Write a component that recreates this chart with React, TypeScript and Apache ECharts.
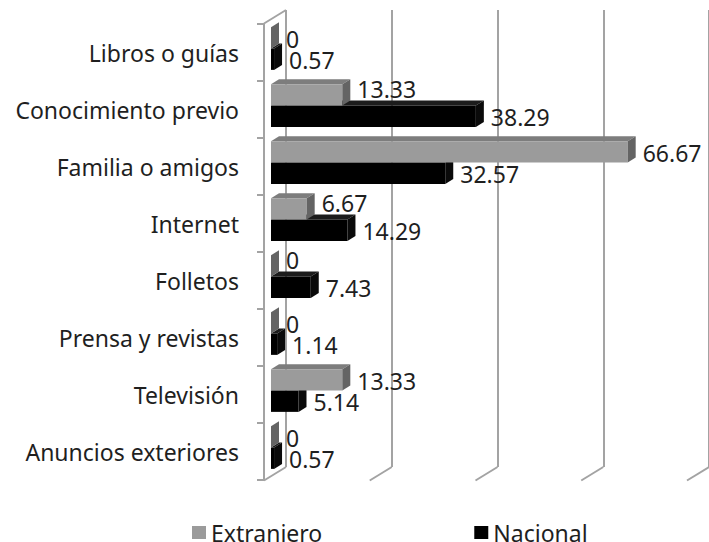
import React, { useEffect, useRef } from "react";
import * as echarts from "echarts";

const categories = [
  "Libros o guías",
  "Conocimiento previo",
  "Familia o amigos",
  "Internet",
  "Folletos",
  "Prensa y revistas",
  "Televisión",
  "Anuncios exteriores",
];
const extranjero = [0, 13.33, 66.67, 6.67, 0, 0, 13.33, 0];
const nacional = [0.57, 38.29, 32.57, 14.29, 7.43, 1.14, 5.14, 0.57];
const valueTicks = [0, 20, 40, 60, 80];
const seriesNames = ["Extranjero", "Nacional"];

const FONT = "Noto Sans";
const FS = 23;
const TEXT = "#1f1f1f";
const WALL = "#a3a3a3";

const DEPTH_X = 22;
const DEPTH_Y = 13.5;
const BAR_OFF_X = 7;
const BAR_OFF_Y = -4;
const BAR_DX = 8;
const BAR_DY = -5;
const LABEL_GAP = 7;

type Face = { front: string; top: string; side: string };
const grayFace: Face = { front: "#9b9b9b", top: "#7d7d7d", side: "#646464" };
const blackFace: Face = { front: "#000000", top: "#1c1c1c", side: "#0a0a0a" };

function barGeom(api: any, slot: number, cat: number, v: number) {
  const start = api.coord([0, cat]);
  const end = api.coord([v, cat]);
  const band = api.size([0, 1])[1];
  const h = band * 0.375;
  const cy = start[1] + BAR_OFF_Y;
  const y0 = slot === 0 ? cy - h : cy;
  const y1 = y0 + h;
  const x0 = start[0] + BAR_OFF_X;
  const x1 = end[0] + BAR_OFF_X;
  return { x0, x1, y0, y1, h };
}

function makeBarRenderer(slot: number, face: Face, zz: number) {
  return (params: any, api: any) => {
    const cat = api.value(0);
    const v = api.value(1);
    const { x0, x1, y0, y1, h } = barGeom(api, slot, cat, v);
    return {
      type: "group",
      children: [
        {
          type: "polygon",
          z2: zz,
          shape: {
            points: [
              [x0, y0],
              [x0 + BAR_DX, y0 + BAR_DY],
              [x1 + BAR_DX, y0 + BAR_DY],
              [x1, y0],
            ],
          },
          style: { fill: face.top },
        },
        {
          type: "rect",
          z2: zz,
          shape: { x: x0, y: y0, width: Math.max(x1 - x0, 0), height: h },
          style: { fill: face.front },
        },
        {
          type: "polygon",
          z2: zz,
          shape: {
            points: [
              [x1, y0],
              [x1 + BAR_DX, y0 + BAR_DY],
              [x1 + BAR_DX, y1 + BAR_DY],
              [x1, y1],
            ],
          },
          style: { fill: face.side },
        },
      ],
    };
  };
}

// labels: [cat, extranjeroValue, nacionalValue]
function labelRenderer(params: any, api: any) {
  const cat = api.value(0);
  const ve = api.value(1);
  const vn = api.value(2);
  const g = barGeom(api, 0, cat, ve);
  const b = barGeom(api, 1, cat, vn);
  const gx = g.x1 + BAR_DX + LABEL_GAP;
  const bx = b.x1 + BAR_DX + LABEL_GAP;
  // lift the upper label when the lower bar reaches under it
  const lift = b.x1 + BAR_DX > gx ? -6 : 1;
  const mk = (x: number, y: number, v: number) => ({
    type: "text",
    z2: 100,
    x,
    y,
    style: {
      text: String(v),
      fontFamily: FONT,
      fontSize: FS,
      fill: TEXT,
      align: "left",
      verticalAlign: "middle",
    },
  });
  return {
    type: "group",
    children: [
      mk(gx, (g.y0 + g.y1) / 2 + lift, ve),
      mk(bx, (b.y0 + b.y1) / 2 + 1, vn),
    ],
  };
}

function wallRenderer(params: any, api: any) {
  const cs = params.coordSys;
  const v = api.value(0);
  const p = api.coord([v, 0]);
  const bottom = cs.y + cs.height;
  const children: any[] = [
    {
      type: "line",
      shape: { x1: p[0], y1: bottom, x2: p[0] - DEPTH_X, y2: bottom + DEPTH_Y },
      style: { stroke: WALL, lineWidth: 2 },
    },
  ];
  if (v === valueTicks[0]) {
    children.push({
      type: "line",
      shape: { x1: cs.x, y1: cs.y, x2: cs.x - DEPTH_X, y2: cs.y + DEPTH_Y },
      style: { stroke: WALL, lineWidth: 2 },
    });
  }
  return { type: "group", children };
}

export default function App() {
  const ref = useRef<HTMLDivElement>(null);
  useEffect(() => {
    if (!ref.current) return;
    const chart = echarts.init(ref.current, undefined, { renderer: "svg" });
    const maxV = valueTicks[valueTicks.length - 1];
    const step = valueTicks[1] - valueTicks[0];
    chart.setOption({
      animation: false,
      backgroundColor: "#ffffff",
      textStyle: { fontFamily: FONT },
      grid: [
        { left: 264, top: 24, width: 428, height: 456 },
        { left: 286, top: 10, width: 428, height: 457 },
      ],
      xAxis: [
        {
          gridIndex: 0,
          type: "value",
          min: valueTicks[0],
          max: maxV,
          interval: step,
          axisLine: { show: false },
          axisTick: { show: false },
          axisLabel: { show: false },
          splitLine: { show: false },
        },
        {
          gridIndex: 1,
          type: "value",
          min: valueTicks[0],
          max: maxV,
          interval: step,
          axisLine: { show: false },
          axisTick: { show: false },
          axisLabel: { show: false },
          splitLine: { show: true, lineStyle: { color: WALL, width: 2 } },
        },
      ],
      yAxis: [
        {
          gridIndex: 0,
          type: "category",
          data: categories,
          inverse: true,
          axisLine: { show: true, lineStyle: { color: WALL, width: 2 } },
          axisTick: { show: true, length: 7, lineStyle: { color: WALL, width: 2 } },
          axisLabel: {
            fontFamily: FONT,
            fontSize: FS,
            color: TEXT,
            margin: 25,
          },
        },
        {
          gridIndex: 1,
          type: "category",
          data: categories,
          inverse: true,
          show: false,
        },
      ],
      legend: {
        data: seriesNames,
        left: 187,
        top: 516,
        icon: "rect",
        itemWidth: 14,
        itemHeight: 13,
        itemGap: 152,
        textStyle: { fontFamily: FONT, fontSize: FS, color: TEXT },
      },
      series: [
        {
          type: "custom",
          name: "walls",
          xAxisIndex: 1,
          yAxisIndex: 1,
          renderItem: wallRenderer,
          data: valueTicks.map((v) => [v]),
          encode: { x: 0 },
          silent: true,
          z: 1,
        },
        {
          type: "custom",
          name: seriesNames[1],
          xAxisIndex: 0,
          yAxisIndex: 0,
          itemStyle: { color: blackFace.front },
          renderItem: makeBarRenderer(1, blackFace, 10),
          data: nacional.map((v, i) => [i, v]),
          encode: { x: 1, y: 0 },
          z: 2,
        },
        {
          type: "custom",
          name: seriesNames[0],
          xAxisIndex: 0,
          yAxisIndex: 0,
          itemStyle: { color: grayFace.front },
          renderItem: makeBarRenderer(0, grayFace, 20),
          data: extranjero.map((v, i) => [i, v]),
          encode: { x: 1, y: 0 },
          z: 3,
        },
        {
          type: "custom",
          name: "labels",
          xAxisIndex: 0,
          yAxisIndex: 0,
          renderItem: labelRenderer,
          data: categories.map((c, i) => [i, extranjero[i], nacional[i]]),
          encode: { x: [1, 2], y: 0 },
          silent: true,
          z: 10,
        },
      ],
    });
    return () => chart.dispose();
  }, []);
  return (
    <div
      ref={ref}
      style={{ position: "fixed", left: 0, top: 0, width: 709, height: 542 }}
    />
  );
}
